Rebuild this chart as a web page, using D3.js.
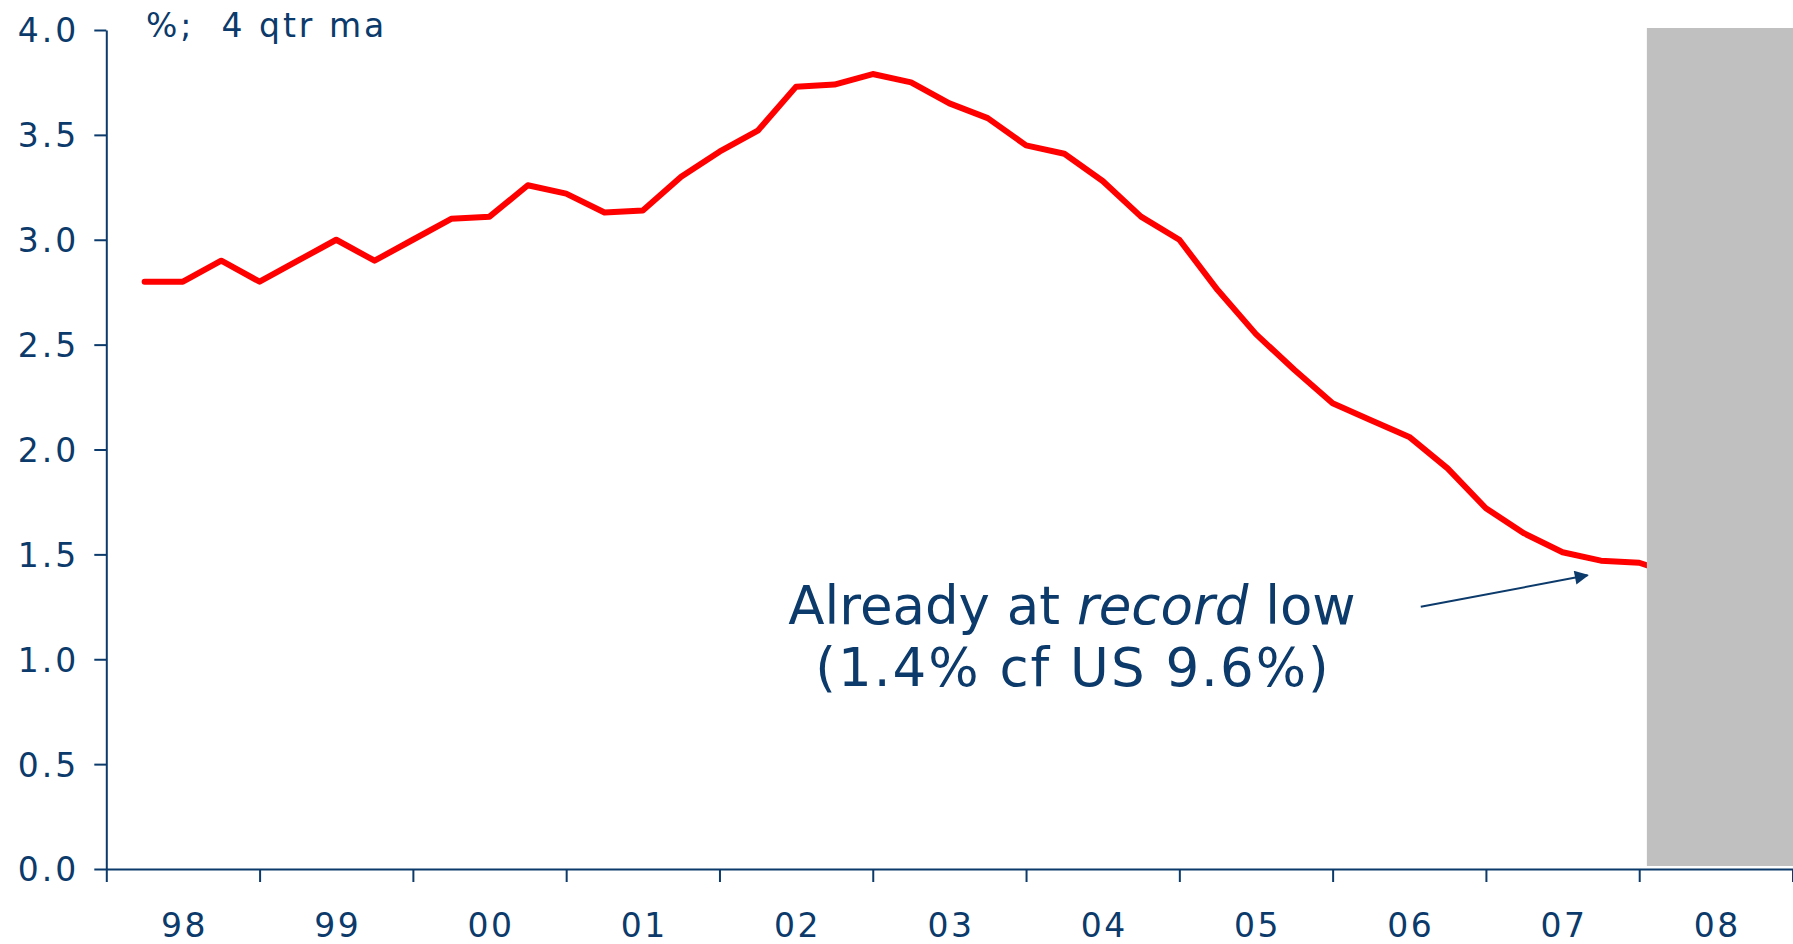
<!DOCTYPE html>
<html>
<head>
<meta charset="utf-8">
<script src="https://cdn.jsdelivr.net/npm/d3@7"></script>
<style>
  html, body { margin: 0; padding: 0; background: #ffffff; }
  svg { display: block; }
</style>
</head>
<body>
<svg id="chart" width="1793" height="944"></svg>
<script>
// ---- data ----
const yearLabels = ["98", "99", "00", "01", "02", "03", "04", "05", "06", "07", "08"];
const yTicks = [0.0, 0.5, 1.0, 1.5, 2.0, 2.5, 3.0, 3.5, 4.0];
// quarter index (1 = end of Q1 1998), value in % (4 qtr ma)
const quarters = [1,2,3,4,5,6,7,8,9,10,11,12,13,14,15,16,17,18,19,20,21,22,23,24,25,26,27,28,29,30,31,32,33,34,35,36,37,38,39,40,41];
const values = [2.80,2.80,2.90,2.80,2.90,3.00,2.90,3.00,3.10,3.11,3.26,3.22,3.13,3.14,3.30,3.42,3.52,3.73,3.74,3.79,3.75,3.65,3.58,3.45,3.41,3.28,3.11,3.00,2.76,2.55,2.38,2.22,2.14,2.06,1.91,1.72,1.60,1.51,1.47,1.46,1.40];
const unitLabel = "%;  4 qtr ma";
const noteLine1 = ["Already at ", "record", " low"];
const noteLine2 = "(1.4% cf US 9.6%)";
const shadeStart = 40.2;   // forecast shading starts (quarter index)
const shadeEnd = 44;
const arrowFrom = { q: 34.3, v: 1.25 };
const arrowTo = { q: 38.65, v: 1.40 };

// ---- layout ----
const navy = "#0b3a6b";
const svg = d3.select("#chart");
const x = d3.scaleLinear().domain([0, 44]).range([106.3, 1792.5]);
const y = d3.scaleLinear().domain([0, 4]).range([869, 30]);

// shading
svg.append("rect")
  .attr("x", x(shadeStart))
  .attr("y", y(4) - 2)
  .attr("width", x(shadeEnd) - x(shadeStart) + 1)
  .attr("height", y(0) - y(4) - 1)
  .attr("fill", "#c0c0c0");

// line (drawn beneath the shading so the final segment is hidden)
const line = d3.line().x((d, i) => x(quarters[i])).y(d => y(d));
svg.insert("path", "rect")
  .attr("d", line(values))
  .attr("fill", "none")
  .attr("stroke", "#ff0000")
  .attr("stroke-width", 6)
  .attr("stroke-linejoin", "round")
  .attr("stroke-linecap", "round");

// y axis
const yAxis = d3.axisLeft(y).tickValues(yTicks).tickFormat(d3.format(".1f")).tickSize(12).tickSizeOuter(0).tickPadding(15);
const gy = svg.append("g").attr("transform", `translate(${x(0)},0)`).call(yAxis);
gy.select(".domain").attr("stroke", navy).attr("stroke-width", 2);
gy.selectAll(".tick line").attr("stroke", navy).attr("stroke-width", 2);
gy.selectAll(".tick text")
  .attr("fill", navy)
  .attr("font-family", "DejaVu Sans, Verdana, sans-serif")
  .attr("font-size", 33)
  .attr("letter-spacing", 3)
  .attr("dy", "0.36em");

// x axis
const xAxis = d3.axisBottom(x).tickValues(d3.range(0, 45, 4)).tickFormat("").tickSize(13).tickSizeOuter(0);
const gx = svg.append("g").attr("transform", `translate(0,${y(0)})`).call(xAxis);
gx.select(".domain").attr("stroke", navy).attr("stroke-width", 2);
gx.selectAll(".tick line").attr("stroke", navy).attr("stroke-width", 2);

svg.append("g").selectAll("text")
  .data(yearLabels)
  .join("text")
  .attr("x", (d, i) => x(i * 4 + 2) + 1.5)
  .attr("y", 937)
  .attr("text-anchor", "middle")
  .attr("fill", navy)
  .attr("font-family", "DejaVu Sans, Verdana, sans-serif")
  .attr("font-size", 33)
  .attr("letter-spacing", 2.5)
  .text(d => d);

// unit label
svg.append("text")
  .attr("x", 146)
  .attr("y", 37)
  .attr("fill", navy)
  .attr("font-family", "DejaVu Sans, Verdana, sans-serif")
  .attr("font-size", 33)
  .attr("letter-spacing", 3)
  .style("white-space", "pre")
  .text(unitLabel);

// annotation
const note = svg.append("g").attr("fill", navy).attr("font-family", "DejaVu Sans, Verdana, sans-serif").attr("font-size", 53);
const t1 = note.append("text").attr("x", 1072).attr("y", 624).attr("text-anchor", "middle");
t1.selectAll("tspan").data(noteLine1).join("tspan")
  .attr("font-style", (d, i) => i === 1 ? "italic" : "normal")
  .style("white-space", "pre")
  .text(d => d);
note.append("text").attr("x", 1073).attr("y", 686).attr("text-anchor", "middle").attr("letter-spacing", 2)
  .text(noteLine2);

// arrow
const defs = svg.append("defs");
defs.append("marker")
  .attr("id", "arrowhead")
  .attr("viewBox", "0 0 10 10")
  .attr("refX", 9).attr("refY", 5)
  .attr("markerWidth", 16).attr("markerHeight", 14)
  .attr("markerUnits", "userSpaceOnUse")
  .attr("orient", "auto")
  .append("path").attr("d", "M0,0 L10,5 L0,10 Z").attr("fill", navy);
svg.append("line")
  .attr("x1", x(arrowFrom.q)).attr("y1", y(arrowFrom.v))
  .attr("x2", x(arrowTo.q)).attr("y2", y(arrowTo.v))
  .attr("stroke", navy).attr("stroke-width", 2)
  .attr("marker-end", "url(#arrowhead)");
</script>
</body>
</html>
